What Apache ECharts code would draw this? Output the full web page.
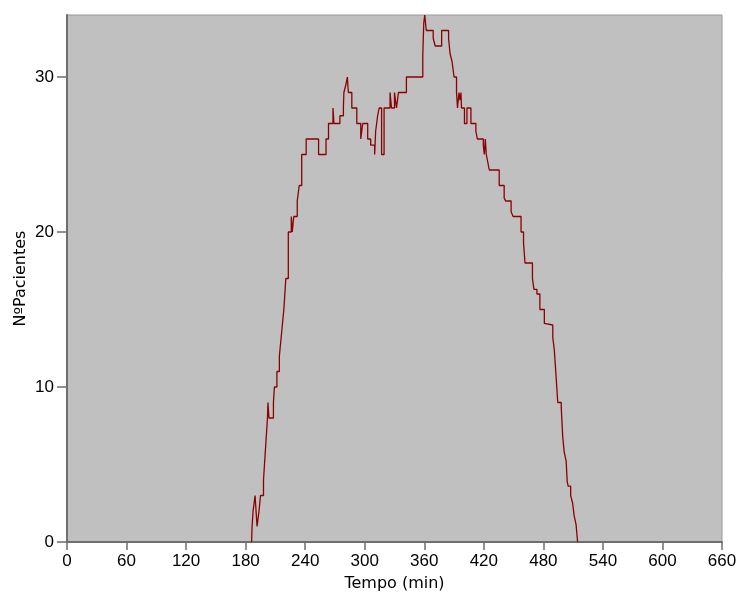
<!DOCTYPE html>
<html>
<head>
<meta charset="utf-8">
<script src="https://cdn.jsdelivr.net/npm/echarts@6/dist/echarts.min.js"></script>
<style>
  html, body { margin: 0; padding: 0; background: #fff; }
  #chart { width: 739px; height: 595px; }
</style>
</head>
<body>
<div id="chart"></div>
<script>
// momentos (min) en que cambia el numero de pacientes
var tiempos = [
  186, 186.5, 187.5, 189.5, 191.5, 193.5, 195, 198, 199, 200,
  201, 202, 202.5, 203.5, 208, 209, 211.5, 214, 215.5, 217,
  218.5, 220.5, 223, 226, 227, 228.5, 232, 234, 236.5, 241,
  253.5, 261, 263.5, 265.5, 268, 269, 272, 275, 278.5, 279,
  281, 282.5, 283.5, 287, 292, 296, 298, 303, 306, 310,
  311, 313, 314.5, 317, 319.5, 325.5, 327, 330, 332, 334,
  337, 342, 358.5, 359.5, 360.5, 362, 369, 371, 377.5, 384.5,
  386, 388, 390, 392.5, 393.5, 395, 396, 397, 397.5, 400.5,
  403, 407, 412, 413.5, 419.5, 420.5, 421.5, 422.5, 424, 425.5,
  435.5, 440.5, 442, 447.5, 449.5, 457.5, 460, 461.5, 469, 470.5,
  473.5, 476.5, 481, 482.5, 489.5, 491, 493, 494.5, 498, 499.5,
  501, 503, 504, 505, 507.5, 509.5, 511, 513, 514.5
];
// numero de pacientes a partir de cada momento
var pacientes = [
  0, 1, 2, 3, 1, 2, 3, 4, 5, 6,
  7, 8, 9, 8, 9, 10, 11, 12, 13, 14,
  15, 17, 20, 21, 20, 21, 22, 23, 25, 26,
  25, 26, 27, 27, 28, 27, 27, 27.5, 28, 29,
  29.5, 30, 29, 28, 27, 26, 27, 26, 25.6, 25,
  26.5, 27.5, 28, 25, 28, 29, 28, 29, 28, 29,
  29, 30, 31.4, 33.5, 34, 33, 32.5, 32, 33, 32.5,
  31.5, 31, 30, 29, 28, 29, 28.5, 29, 28, 27,
  28, 27, 26.5, 26, 25.6, 25, 26, 25, 24.5, 24,
  23, 22.2, 22, 21.3, 21, 20, 19.3, 18, 17, 16.3,
  16, 15, 14.1, 14, 13.2, 12.4, 10.5, 9, 8.7, 6.8,
  5.8, 5.2, 3.9, 3.6, 3, 2.5, 1.7, 1.1, 0
];
var ticksY = [0, 10, 20, 30];

var datos = [];
for (var i = 0; i < tiempos.length; i++) {
  datos.push([tiempos[i], pacientes[i]]);
}

var myChart = echarts.init(document.getElementById('chart'));
var fuente = 'Liberation Sans';

var option = {
  animation: false,
  backgroundColor: '#ffffff',
  grid: {
    left: 67, right: 17, top: 15, bottom: 53,
    outerBoundsMode: 'none',
    show: true,
    backgroundColor: '#c0c0c0',
    borderColor: '#9a9a9a',
    borderWidth: 1
  },
  xAxis: {
    type: 'value',
    min: 0, max: 660, interval: 60,
    name: 'Tempo (min)',
    nameLocation: 'middle',
    nameGap: 34,
    nameMoveOverlap: false,
    nameTextStyle: { fontFamily: 'DejaVu Sans', fontSize: 16, color: '#000' },
    axisLine: { lineStyle: { color: '#6e6e6e', width: 2 } },
    axisTick: { show: true, length: 8, lineStyle: { color: '#6e6e6e', width: 1.5 } },
    axisLabel: { fontFamily: fuente, fontSize: 17, color: '#000', margin: 11 },
    splitLine: { show: false }
  },
  yAxis: {
    type: 'value',
    min: 0, max: 34,
    name: 'NºPacientes',
    nameLocation: 'middle',
    nameGap: 38,
    nameRotate: 90,
    nameMoveOverlap: false,
    nameTextStyle: { fontFamily: 'DejaVu Sans', fontSize: 16, color: '#000' },
    axisLine: { show: true, lineStyle: { color: '#6e6e6e', width: 2 } },
    axisTick: { show: true, length: 10, customValues: ticksY, lineStyle: { color: '#6e6e6e', width: 1.5 } },
    axisLabel: { fontFamily: fuente, fontSize: 17, color: '#000', margin: 13, customValues: ticksY },
    splitLine: { show: false }
  },
  series: [{
    type: 'line',
    step: 'end',
    data: datos,
    showSymbol: false,
    lineStyle: { color: '#8b0000', width: 1.3 }
  }]
};

myChart.setOption(option);
</script>
</body>
</html>
